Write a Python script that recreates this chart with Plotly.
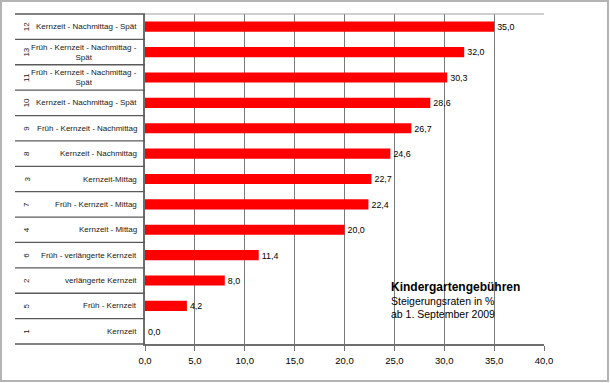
import plotly.graph_objects as go

codes = ["12", "13", "11", "10", "9", "8", "3", "7", "4", "6", "2", "5", "1"]
labels = ["Kernzeit - Nachmittag - Spät",
          "Früh - Kernzeit - Nachmittag -<br>Spät",
          "Früh - Kernzeit - Nachmittag -<br>Spät",
          "Kernzeit - Nachmittag - Spät",
          "Früh - Kernzeit - Nachmittag",
          "Kernzeit - Nachmittag",
          "Kernzeit-Mittag",
          "Früh - Kernzeit - Mittag",
          "Kernzeit - Mittag",
          "Früh - verlängerte Kernzeit",
          "verlängerte Kernzeit",
          "Früh - Kernzeit",
          "Kernzeit"]
values = [35.0, 32.0, 30.3, 28.6, 26.7, 24.6, 22.7, 22.4, 20.0, 11.4, 8.0, 4.2, 0.0]
tick_vals = [0, 5, 10, 15, 20, 25, 30, 35, 40]

W, H = 610, 383
ML, MR, MT, MB = 145, 66, 14, 39
PW = W - ML - MR
PH = H - MT - MB

def px(x):
    return (x - ML) / PW

def py(y):
    return (H - MB - y) / PH

FONT = "Liberation Sans, Arial, sans-serif"
order = list(reversed(codes))  # bottom to top
n = len(codes)

fig = go.Figure(go.Bar(
    x=values, y=codes, orientation="h",
    marker=dict(color="#ff0000", line=dict(width=0)),
    text=[f"{v:.1f}".replace(".", ",") for v in values],
    textposition="outside", cliponaxis=False,
    textfont=dict(family=FONT, size=10.5, color="black"),
    hoverinfo="skip",
))

shapes = []
# outer border
shapes.append(dict(type="rect", xref="paper", yref="paper",
                   x0=px(1), x1=px(608), y0=py(381), y1=py(1),
                   line=dict(color="#b4b4b4", width=2)))
# label area separators
for k in range(n + 1):
    shapes.append(dict(type="line", xref="paper", yref="paper",
                       x0=px(15), x1=0, y0=k / n, y1=k / n,
                       line=dict(color="#5a5a5a", width=1.3)))
# plot area top border
shapes.append(dict(type="line", xref="paper", yref="paper",
                   x0=0, x1=1, y0=1, y1=1,
                   line=dict(color="#a0a0a0", width=1)))

annotations = []
for c, lab in zip(codes, labels):
    yi = order.index(c)
    annotations.append(dict(x=px(139), y=yi, xref="paper", yref="y",
                            text=lab, showarrow=False, xanchor="right",
                            align="center",
                            font=dict(family=FONT, size=8, color="#202020")))
    annotations.append(dict(x=px(20), y=yi, xref="paper", yref="y",
                            text=c, showarrow=False, textangle=-90,
                            font=dict(family=FONT, size=8, color="#202020")))

annotations.append(dict(x=px(389), y=py(287), xref="paper", yref="paper",
                        text="<b>Kindergartengebühren</b>", showarrow=False,
                        xanchor="left", yanchor="middle",
                        font=dict(family=FONT, size=12, color="black")))
annotations.append(dict(x=px(389), y=py(301), xref="paper", yref="paper",
                        text="Steigerungsraten in %", showarrow=False,
                        xanchor="left", yanchor="middle",
                        font=dict(family=FONT, size=10.5, color="black")))
annotations.append(dict(x=px(389), y=py(313.5), xref="paper", yref="paper",
                        text="ab 1. September 2009", showarrow=False,
                        xanchor="left", yanchor="middle",
                        font=dict(family=FONT, size=10.5, color="black")))

fig.update_layout(
    width=W, height=H,
    margin=dict(l=ML, r=MR, t=MT, b=MB, pad=0),
    paper_bgcolor="white", plot_bgcolor="white",
    separators=",.",
    bargap=0.6,
    showlegend=False,
    shapes=shapes,
    annotations=annotations,
    xaxis=dict(range=[0, 40], tickvals=tick_vals, tickformat=".1f",
               showgrid=True, gridcolor="#7a7a7a", gridwidth=1,
               showline=True, linecolor="#6e6e6e", linewidth=1.5,
               ticks="outside", ticklen=5, tickcolor="#6e6e6e",
               ticklabelstandoff=2,
               zeroline=False,
               tickfont=dict(family=FONT, size=9.5, color="black")),
    yaxis=dict(type="category", categoryorder="array", categoryarray=order,
               range=[-0.5, n - 0.5], showticklabels=False,
               showgrid=False, zeroline=False,
               showline=True, linecolor="#6e6e6e", linewidth=1.5,
               ticks=""),
)

fig.write_html("out.html", config={"displayModeBar": False},
               post_script="document.body.style.margin='0';document.body.style.padding='0';")
